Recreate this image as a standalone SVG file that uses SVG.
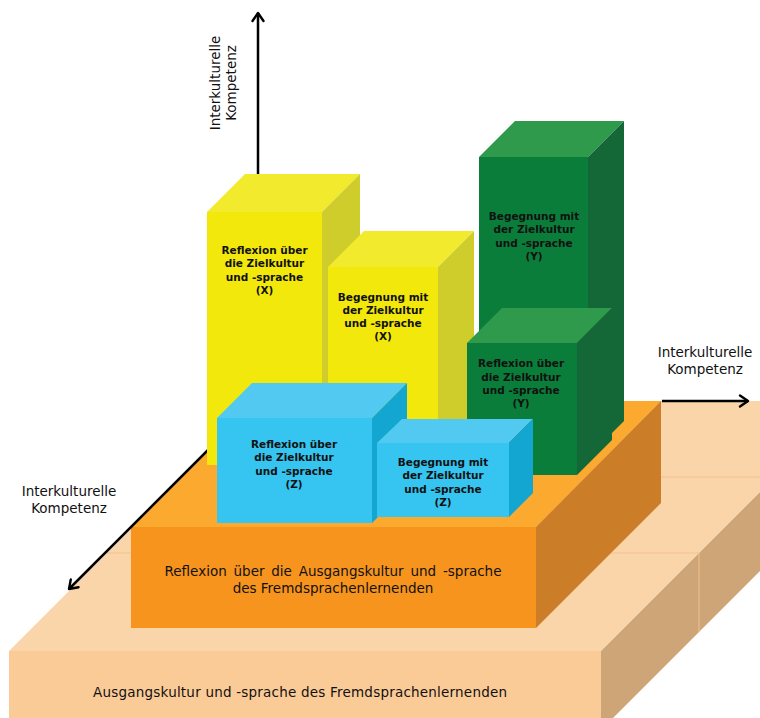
<svg xmlns="http://www.w3.org/2000/svg" width="760" height="718" viewBox="0 0 760 718">
  <defs>
    <style>
      .lbl{font-family:"DejaVu Sans","Liberation Sans",sans-serif;fill:#111;}
      .box{font-size:10.5px;font-weight:bold;text-anchor:middle;}
      .axt{font-size:13.5px;text-anchor:middle;}
      .base{font-size:13.5px;text-anchor:middle;}
      .ax{stroke:#000;stroke-width:2.5;fill:none;marker-end:url(#arr);}
      .seam{stroke:#f3c08e;stroke-width:1;fill:none;}
      .pe-t{fill:#fbd5aa;} .pe-f{fill:#fbcb97;} .pe-s{fill:#cda577;}
      .or-t{fill:#fba92f;} .or-f{fill:#f7941d;} .or-s{fill:#cc7d27;}
      .ye-t{fill:#f1ea2d;} .ye-f{fill:#f2e80c;} .ye-s{fill:#cfcd2b;}
      .gr-t{fill:#2f9a4b;} .gr-f{fill:#0a7d3a;} .gr-s{fill:#146737;}
      .bl-t{fill:#52c9f0;} .bl-f{fill:#35c5f0;} .bl-s{fill:#12a6d0;}
    </style>
    <marker id="arr" viewBox="0 0 12 14" refX="10" refY="7" markerWidth="12" markerHeight="14" markerUnits="userSpaceOnUse" orient="auto">
      <path d="M2,1.5 L10,7 L2,12.5" fill="none" stroke="#000" stroke-width="2.4" stroke-linejoin="round" stroke-linecap="round"/>
    </marker>
  </defs>

  <!-- base platform -->
  <g id="base">
    <polygon class="pe-t" points="9,651 259,401 760,401 760,492 601,651"/>
    <polygon class="pe-s" points="601,651 760,492 760,571 601,730"/>
    <rect class="pe-f" x="9" y="651" width="592" height="79"/>
    <path class="seam" d="M107,553 H699 M183,477 H760 M699,553 V632"/>
    <text class="lbl base" x="300" y="697" textLength="414" lengthAdjust="spacing">Ausgangskultur und -sprache des Fremdsprachenlernenden</text>
  </g>

  <!-- axes -->
  <g id="axes">
    <path class="ax" d="M662,401 L748,401"/>
  </g>

  <!-- reflection platform -->
  <g id="reflexion-ausgang">
    <polygon class="or-t" points="131,527 256,401 661,401 536,527"/>
    <polygon class="or-s" points="536,527 661,401 661,503 536,628"/>
    <rect class="or-f" x="131" y="527" width="405" height="101"/>
    <text class="lbl base" x="333" y="576" word-spacing="2.5">Reflexion über die Ausgangskultur und -sprache</text>
    <text class="lbl base" x="333" y="593">des Fremdsprachenlernenden</text>
  </g>

  <g id="axes-2">
    <path class="ax" d="M240,418 L69,589"/>
    <path class="ax" d="M258,175 L258,13"/>
  </g>

  <!-- axis labels -->
  <g id="axis-labels" class="lbl axt">
    <text transform="translate(220,83) rotate(-90)">Interkulturelle</text>
    <text transform="translate(236,83) rotate(-90)">Kompetenz</text>
    <text x="705" y="357">Interkulturelle</text>
    <text x="705" y="374">Kompetenz</text>
    <text x="69" y="496">Interkulturelle</text>
    <text x="69" y="513">Kompetenz</text>
  </g>

  <g id="begegnung-y">
    <polygon class="gr-t" points="479,157 515,121 624,121 588,157"/>
    <polygon class="gr-s" points="588,157 624,121 624,421 588,457"/>
    <rect class="gr-f" x="479" y="157" width="109" height="300"/>
    <text class="lbl box" x="534" y="220">Begegnung mit<tspan x="534" dy="13.4">der Zielkultur</tspan><tspan x="534" dy="13.4">und -sprache</tspan><tspan x="534" dy="13">(Y)</tspan></text>
  </g>

  <g id="reflexion-x">
    <polygon class="ye-t" points="207,212 245,174 360,174 322,212"/>
    <polygon class="ye-s" points="322,212 360,174 360,427 322,465"/>
    <rect class="ye-f" x="207" y="212" width="115" height="253"/>
    <text class="lbl box" x="264.5" y="254">Reflexion über<tspan x="264.5" dy="13.4">die Zielkultur</tspan><tspan x="264.5" dy="13.4">und -sprache</tspan><tspan x="264.5" dy="13.4">(X)</tspan></text>
  </g>

  <g id="begegnung-x">
    <polygon class="ye-t" points="328,267 364,231 474,231 438,267"/>
    <polygon class="ye-s" points="438,267 474,231 474,419 438,455"/>
    <rect class="ye-f" x="328" y="267" width="110" height="188"/>
    <text class="lbl box" x="383" y="301">Begegnung mit<tspan x="383" dy="13.2">der Zielkultur</tspan><tspan x="383" dy="13.2">und -sprache</tspan><tspan x="383" dy="12.8">(X)</tspan></text>
  </g>

  <g id="reflexion-y">
    <polygon class="gr-t" points="467,343 502,308 612,308 577,343"/>
    <polygon class="gr-s" points="577,343 612,308 612,440 577,475"/>
    <rect class="gr-f" x="467" y="343" width="110" height="132"/>
    <text class="lbl box" x="521" y="367">Reflexion über<tspan x="521" dy="13.6">die Zielkultur</tspan><tspan x="521" dy="13.6">und -sprache</tspan><tspan x="521" dy="12.8">(Y)</tspan></text>
  </g>

  <g id="reflexion-z">
    <polygon class="bl-t" points="217,418 252,383 407,383 372,418"/>
    <polygon class="bl-s" points="372,418 407,383 407,488 372,523"/>
    <rect class="bl-f" x="217" y="418" width="155" height="105"/>
    <text class="lbl box" x="294" y="448">Reflexion über<tspan x="294" dy="13.4">die Zielkultur</tspan><tspan x="294" dy="13.4">und -sprache</tspan><tspan x="294" dy="12.8">(Z)</tspan></text>
  </g>

  <g id="begegnung-z">
    <polygon class="bl-t" points="377,443 402,419 533,419 509,443"/>
    <polygon class="bl-s" points="509,443 533,419 533,493 509,517"/>
    <rect class="bl-f" x="377" y="443" width="132" height="74"/>
    <text class="lbl box" x="443" y="466">Begegnung mit<tspan x="443" dy="13.4">der Zielkultur</tspan><tspan x="443" dy="13.4">und -sprache</tspan><tspan x="443" dy="12.8">(Z)</tspan></text>
  </g>
</svg>
